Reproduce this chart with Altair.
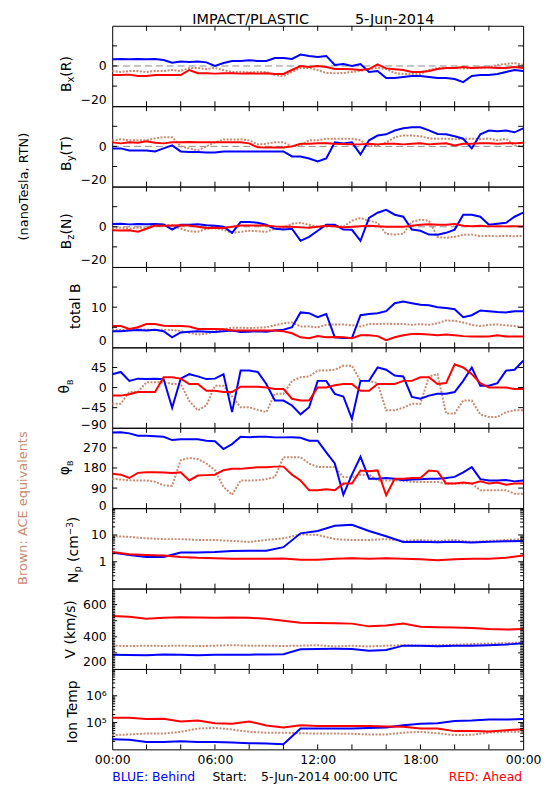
import altair as alt
import pandas as pd

# ---------------- time grids ----------------
HALF_HOURS = [0, 0.5, 1, 1.5, 2, 2.5, 3, 3.5, 4, 4.5,
              5, 5.5, 6, 6.5, 7, 7.5, 8, 8.5, 9, 9.5,
              10, 10.5, 11, 11.5, 12, 12.5, 13, 13.5, 14, 14.5,
              15, 15.5, 16, 16.5, 17, 17.5, 18, 18.5, 19, 19.5,
              20, 20.5, 21, 21.5, 22, 22.5, 23, 23.5, 24]
HOURS = [0, 1, 2, 3, 4, 5, 6, 7, 8, 9, 10, 11, 12, 13, 14, 15, 16, 17, 18, 19, 20, 21, 22, 23, 24]

# ---------------- magnetic field (nT) ----------------
BX_BLUE = [3.3, 3.5, 3.3, 3.5, 3.3, 3.5, 3, 1.6, 2.2, 2,
           2.2, 1.8, 0, 1.5, 2.5, 2.5, 2.8, 2.5, 2.5, 4,
           4, 3.5, 5.7, 5, 4.5, 5, 0.5, 1, 0, 1,
           -3, -2.5, -6, -6, -5.5, -5, -5, -5.5, -6, -6,
           -6.5, -8, -5, -4.5, -4.5, -4, -3, -2, -2.5]
BX_RED = [-4.5, -4.5, -4.3, -5, -5, -4.5, -4.5, -4.5, -4.5, -2,
          -3.6, -3.6, -3.8, -3.6, -3.6, -3.8, -3.6, -3.8, -3.6, -4,
          -4, -2, 0, -0.5, 0, -0.5, -1.5, -1.5, -1.6, -2,
          -1.5, 0.8, -1.2, -1.6, -2, -3, -3, -2.5, -1.5, -1,
          -1, -0.5, -1, -0.8, -0.8, -1, -1, -0.5, -1]
BX_BROWN = [-2.5, -3, -2.5, -2.5, -3, -2.5, -2.5, -2, -2.5, -1,
            -1, -1.5, -1, -2, -3, -3, -3.2, -3, -3, -4.5,
            -5, -3, -1, -1, -2, -3.5, -3.6, -3.5, -3, -2.5,
            -1.5, -1, -1.5, -3.5, -4, -4, -4, -2, -1, -1,
            -1, -1.2, -1, -1, -0.5, 0.5, 1, 1.5, 0.5]

BY_BLUE = [-1, -1, -2, -2, -2, -2.5, -1, 0.5, -2.5, -2.8,
           -2.8, -3, -3, -2.5, -2.5, -2.5, -2.5, -2.5, -2.5, -2.5,
           -2.5, -5, -5, -6, -7.5, -6, 2, 1.5, 2, -4,
           3, 5.4, 6, 7.9, 9, 9.5, 9.5, 8, 6.2, 6,
           5, 3.8, -1, 6, 7.9, 7.5, 7.9, 7, 9]
BY_RED = [2, 1.5, 2, 1.8, 2.5, 1.8, 1.5, 2, 2, 2.2,
          2, 2, 2, 2, 2, 2, 1.5, -0.5, -0.6, -0.6,
          -0.6, 0, 1.3, 1.3, 1.5, 1.5, 1.3, 1.2, 1, 1,
          1.3, 1, 1.3, 1.3, 1, 1.3, 1.5, 1, 1.3, 1.5,
          0.5, 1.3, 1.3, 1.5, 1.5, 1.3, 1.5, 1.5, 1.8]
BY_BROWN = [3, 3.5, 3, 3, 3, 4, 4.6, 4.6, 0, -1,
            -2, 0, 2, 3.4, 3.4, 3.5, 3, 1, 1.3, 2,
            2, 0, 0.5, 3, 3, 3.8, 3.8, 3.8, 3.8, 3,
            0, 0.5, 2, 4.5, 5.4, 5.4, 5, 4, 3.8, 3.8,
            3.5, 3.8, 3.8, 3.5, 4, 3, 3.8, 0.5, 0]

BZ_BLUE = [1.4, 1.5, 1.2, 1.4, 1.3, 1.4, 1.2, -1.4, 1, 1,
           1.2, 0.8, 0.5, 0, -3, 2.4, 2.4, 2, 1, -1,
           -1.4, -1, -7, -5, -2, 1, 1, -1.4, -1.5, -7,
           4.4, 7, 8.4, 6, 5, -1.4, -2, -3.9, -4, -3,
           -1.4, 6, 6, 5, 1, 1.5, 2, 5, 7]
BZ_RED = [-1.7, -1.8, -1.7, -2.5, -1, 0.6, 0.5, 0.6, 0.8, 0.6,
          0, -0.6, -0.5, -0.6, 0, 0.6, 0.6, 0.6, 0.6, 0.2,
          0, 0, -0.3, -0.5, 0, 0.5, 0.3, -0.3, 0, 0.3,
          0.5, 0.3, 0, 0, 0, 0.5, 1, 1.2, 1, 1,
          1.4, 0.5, 0.3, 0.5, 0.2, 0.3, 0.2, 0.3, 0.2]
BZ_BROWN = [-0.6, -0.5, -0.8, -0.5, -0.3, 1, 1, 0.8, -1, -2.2,
            -2.5, -1, -0.6, -1.5, -3, -2.5, -2, -2.2, -2.5, -1,
            -0.5, 1.5, 2, 1, 0, 0, 0.5, 0, 3, 4.4,
            3, 2, -3.5, -3.9, -3.5, 2.5, 3.5, 3, -5, -5.5,
            -5, -4, -3.9, -4.7, -4.5, -4.7, -4.5, -4.7, -4.5]

BT_BLUE = [4, 4, 4.2, 4.3, 4.2, 4.4, 4, 2.5, 3.7, 3.9,
           4, 3.9, 3.8, 4, 4.2, 3.8, 3.9, 4, 3.9, 4.2,
           4.4, 5, 8.7, 8.5, 7.5, 8.3, 2.5, 2.3, 2.3, 8,
           8.3, 8.5, 9, 11, 11.4, 11, 10.6, 10.5, 10, 9.8,
           9.5, 7.5, 8, 9.2, 9, 8.8, 8.7, 9, 9]
BT_RED = [5.3, 5.3, 4.6, 5, 5.8, 5.8, 5.4, 5.3, 5.3, 5.2,
          4.6, 4.6, 4.6, 4.5, 4.2, 4.2, 4.2, 4.2, 4.2, 4.2,
          4, 3.5, 2.5, 2.3, 2.8, 2.5, 2.6, 2.5, 2.3, 3,
          3, 2.8, 1.8, 2.5, 3, 3.3, 3.3, 3.2, 3, 3.2,
          3, 2.8, 2.7, 2.7, 2.7, 3, 2.7, 2.7, 2.7]
BT_BROWN = [4.4, 4.3, 4.4, 4.5, 4.4, 4.3, 4.4, 4.3, 4.1, 3.6,
            3.2, 3.4, 4, 4.5, 4.9, 4.9, 4.8, 4.9, 5, 5.5,
            6, 6.2, 5.2, 5.2, 5, 5.6, 5.7, 5.7, 5.5, 5.2,
            5.8, 5.8, 5.9, 5.8, 5.8, 5.6, 5.8, 5.6, 6, 6.7,
            6.6, 6.2, 5.6, 5.3, 5.6, 5.7, 5.5, 5.3, 5]

# ---------------- field angles (deg) ----------------
TH_BLUE = [30, 35, 15, 20, 19, 20, 19, -45, 20, 30,
           25, 19, 20, 30, -55, 38, 38, 35, 8, -29,
           -29, -40, -60, -44, 15, 15, -14, -20, -70, 15,
           15, 45, 40, 27, 25, -21, -25, -18, -14, -14,
           -10, 15, 45, 4, 4, 10, 38, 40, 60]
TH_RED = [-18, -18, -15, -10, -10, -10, 23, 23, 20, 8,
          8, -7, -7, -10, -10, 2, 2, 2, 0, -3,
          -3, -25, -29, -29, 0, 0, 5, 8, 8, -7,
          -7, 8, 8, 8, 15, 15, 23, 23, 8, 10,
          52, 45, 30, 10, 0, 0, 0, -3, -3]
TH_BROWN = [-36, -36, -10, -10, 12, 12, 12, 8, 8, -30,
            -51, -40, 4, 4, -20, -44, -44, -50, -55, -14,
            -14, 15, 23, 25, 38, 38, 40, 49, 49, 15,
            15, 10, -51, -51, -45, -36, -36, 25, 30, -58,
            -58, -29, -29, -60, -66, -66, -55, -51, -51]

PH_BLUE = [339, 340, 335, 324, 324, 322, 320, 305, 309, 309,
           309, 302, 300, 265, 287, 320, 318, 320, 320, 317,
           317, 318, 315, 302, 302, 250, 200, 60, 150, 230,
           132, 132, 135, 132, 125, 128, 130, 132, 132, 135,
           140, 160, 184, 130, 124, 124, 126, 120, 124]
PH_RED = [154, 150, 135, 158, 161, 161, 160, 158, 161, 124,
          146, 148, 150, 170, 176, 176, 180, 183, 183, 186,
          186, 150, 124, 80, 80, 85, 80, 110, 110, 169,
          165, 169, 58, 132, 132, 135, 135, 169, 165, 110,
          110, 115, 110, 120, 110, 115, 105, 110, 110]
PH_BROWN = [132, 128, 125, 124, 124, 118, 102, 100, 215, 225,
            220, 200, 170, 95, 60, 124, 124, 125, 130, 139,
            228, 228, 228, 200, 184, 184, 184, 139, 139, 150,
            150, 124, 124, 124, 124, 117, 117, 117, 117, 110,
            110, 110, 110, 80, 80, 80, 80, 65, 65]

# ---------------- plasma (hourly) ----------------
NP_BLUE = [2.2, 1.8, 1.5, 1.5, 2.2, 2.2, 2.3, 2.5, 2.6, 2.6, 3.5, 11.5, 14, 22, 24, 14, 9, 5.5, 5.6, 5.3, 5.6, 5.2, 5.6, 5.8, 6]
NP_RED = [2.3, 1.9, 1.8, 1.7, 1.5, 1.4, 1.35, 1.3, 1.3, 1.3, 1.33, 1.2, 1.2, 1.3, 1.35, 1.3, 1.35, 1.3, 1.25, 1.15, 1.25, 1.3, 1.3, 1.4, 1.7]
NP_BROWN = [9, 8.5, 7.5, 7, 7, 6.5, 6.5, 6, 5.5, 6.5, 7.5, 10.5, 10, 7, 6.5, 6.5, 7, 6, 6.5, 6, 6.5, 5.5, 6, 6.5, 7]

V_BLUE = [288, 287, 285, 290, 288, 286, 288, 288, 289, 290, 292, 322, 324, 325, 324, 314, 318, 345, 345, 342, 345, 345, 348, 352, 360]
V_RED = [530, 525, 512, 518, 522, 520, 518, 520, 518, 512, 500, 488, 486, 484, 482, 465, 470, 482, 462, 459, 458, 455, 448, 445, 448]
V_BROWN = [345, 342, 345, 343, 345, 342, 345, 348, 345, 345, 343, 345, 348, 340, 345, 340, 345, 348, 345, 348, 350, 355, 358, 360, 365]

T_BLUE = [24000, 23000, 19000, 19000, 20000, 19000, 19000, 18000, 17000, 16500, 15500, 60000, 60000, 60000, 60000, 63000, 65000, 80000, 90000, 95000, 115000, 120000, 130000, 130000, 135000]
T_RED = [150000, 150000, 135000, 140000, 110000, 120000, 95000, 90000, 110000, 78000, 65000, 80000, 75000, 75000, 75000, 75000, 72000, 70000, 60000, 60000, 48000, 48000, 46000, 52000, 56000]
T_BROWN = [34000, 36000, 39000, 39000, 45000, 60000, 63000, 55000, 45000, 42000, 42000, 40000, 39000, 39000, 38000, 36000, 36000, 42000, 45000, 40000, 34000, 35000, 42000, 45000, 45000]

# ---------------- axes ----------------
X_TICKS = [2, 4, 6, 8, 10, 12, 14, 16, 18, 20, 22]
X_LABELS = [0, 6, 12, 18, 24]

FONT = "DejaVu Sans"
BLUE = "#0000ff"
RED = "#ff0000"
BROWN = "#c98a70"
GRAY = "#8c8c8c"
W, H = 414, 81
ONE = pd.DataFrame({"o": [0]})

CW = {'B': 0.686, 'x': 0.592, '(': 0.390, ')': 0.390, 'R': 0.695, 'y': 0.592, 'T': 0.611,
      'z': 0.525, 'N': 0.748, 't': 0.392, 'o': 0.612, 'a': 0.613, 'l': 0.278, ' ': 0.318,
      'θ': 0.612, 'φ': 0.660, 'p': 0.635, 'c': 0.550, 'm': 0.974, '−': 0.838, '3': 0.636,
      'V': 0.684, 'k': 0.579, '/': 0.337, 's': 0.521, 'I': 0.295, 'n': 0.634, 'e': 0.615}


def tw(text, size):
    return sum(CW.get(c, 0.6) for c in text) * size


def text_layer(txt, x, y, size=13, color="black", angle=0, align="left", baseline="alphabetic"):
    return alt.Chart(ONE).mark_text(
        text=txt, font=FONT, fontSize=size, color=color, angle=angle,
        align=align, baseline=baseline
    ).encode(x=alt.value(x), y=alt.value(y))


def vtitle(pieces, xb, yc):
    total = sum(tw(t, s) for t, s, _ in pieces)
    y = yc + total / 2
    out = []
    for t, s, dx in pieces:
        if t.strip():
            out.append(text_layer(t, xb + dx, y, size=s, angle=270, align="left"))
        y -= tw(t, s)
    return out


def panel(hours, blue, red, brown, ydom, ylog, ylabels, labelexpr, major, minor,
          title_pieces, title_x, title_y, zero=False, bottom_axis=False, extra=None,
          flush_offset=0):
    xscale = alt.Scale(domain=[0, 24], nice=False, zero=False)
    if bottom_axis:
        xaxis = alt.Axis(values=X_LABELS,
                         labelExpr="(datum.value % 24 < 10 ? '0' : '') + (datum.value % 24) + ':00'",
                         ticks=False, tickSize=0, domain=False, grid=False, labelPadding=4,
                         labelFont=FONT, labelFontSize=12.5, labelColor="black", title=None,
                         labelFlush=False, labelOverlap=False)
    else:
        xaxis = None
    yscale = alt.Scale(type="log" if ylog else "linear", domain=ydom, nice=False, zero=False)
    ykw = dict(values=ylabels, ticks=False, tickSize=0, domain=False, grid=False,
               labelPadding=6, labelFont=FONT, labelFontSize=12.5, labelColor="black",
               title=None, labelFlush=True, labelOverlap=False)
    if flush_offset:
        ykw["labelFlushOffset"] = flush_offset
    if labelexpr:
        ykw["labelExpr"] = labelexpr
    yaxis = alt.Axis(**ykw)
    X = alt.X("h:Q", scale=xscale, axis=xaxis)
    Y = alt.Y("v:Q", scale=yscale, axis=yaxis)

    layers = []
    if zero:
        layers.append(alt.Chart(pd.DataFrame({"v": [0]})).mark_rule(
            color=GRAY, strokeDash=[7, 4], strokeWidth=1).encode(y=Y))
    for vals, col, dash in ((brown, BROWN, [2, 1.5]), (blue, BLUE, None), (red, RED, None)):
        df = pd.DataFrame({"h": hours, "v": vals})
        kw = dict(color=col, strokeWidth=2, clip=True)
        if dash:
            kw["strokeDash"] = dash
        layers.append(alt.Chart(df).mark_line(**kw).encode(x=X, y=Y))

    # inward tick marks
    for vals, ln in ((major, 5), (minor, 3)):
        if not vals:
            continue
        tdf = pd.DataFrame({"v": vals})
        layers.append(alt.Chart(tdf).mark_rule(color="black", strokeWidth=1).encode(
            y=Y, x=alt.value(0), x2=alt.value(ln)))
        layers.append(alt.Chart(tdf).mark_rule(color="black", strokeWidth=1).encode(
            y=Y, x=alt.value(W - ln), x2=alt.value(W)))
    xdf = pd.DataFrame({"h": X_TICKS})
    layers.append(alt.Chart(xdf).mark_rule(color="black", strokeWidth=1).encode(
        x=X, y=alt.value(0), y2=alt.value(5)))
    layers.append(alt.Chart(xdf).mark_rule(color="black", strokeWidth=1).encode(
        x=X, y=alt.value(H - 5), y2=alt.value(H)))

    layers += vtitle(title_pieces, title_x, title_y)
    if extra:
        layers += extra
    return alt.layer(*layers).properties(width=W, height=H)


# minor tick lists
NP_MINOR = [0.2, 0.3, 0.4, 0.5, 0.6, 0.7, 0.8, 0.9, 2, 3, 4, 5, 6, 7, 8, 9,
            20, 30, 40, 50, 60, 70, 80, 90]
T_MINOR = [20000, 30000, 40000, 50000, 60000, 70000, 80000, 90000,
           200000, 300000, 400000, 500000, 600000, 700000, 800000, 900000,
           2000000, 3000000, 4000000, 5000000, 6000000, 7000000, 8000000, 9000000]
V_MINOR = [210, 220, 230, 240, 250, 260, 270, 280, 290,
           310, 320, 330, 340, 350, 360, 370, 380, 390,
           410, 420, 430, 440, 450, 460, 470, 480, 490,
           510, 520, 530, 540, 550, 560, 570, 580, 590,
           610, 620, 630, 640, 650, 660, 670, 680, 690]

top_extra = [
    # white spacer that fixes the left edge of the figure
    alt.Chart(ONE).mark_rule(color="white", strokeWidth=1).encode(
        x=alt.value(-103.5), x2=alt.value(-103), y=alt.value(40)),
    text_layer("IMPACT/PLASTIC", 139.5, -2, size=14.5, align="center"),
    text_layer("5-Jun-2014", 284.5, -2, size=14.5, align="center"),
]
p1 = panel(HALF_HOURS, BX_BLUE, BX_RED, BX_BROWN, [-20, 20], False, [-20, 0], None,
           [-10, 0, 10], None, [("B", 14, 0), ("x", 10, 3), ("(R)", 14, 0)], -42, 48.7,
           zero=True, extra=top_extra)
p2 = panel(HALF_HOURS, BY_BLUE, BY_RED, BY_BROWN, [-20, 20], False, [-20, 0], None,
           [-10, 0, 10], None, [("B", 14, 0), ("y", 10, 3), ("(T)", 14, 0)], -42, 47.7,
           zero=True,
           extra=[text_layer("(nanoTesla, RTN)", -85, 81, size=13, angle=270, align="center")])
p3 = panel(HALF_HOURS, BZ_BLUE, BZ_RED, BZ_BROWN, [-20, 20], False, [-20, 0], None,
           [-10, 0, 10], None, [("B", 14, 0), ("z", 10, 3), ("(N)", 14, 0)], -42, 45,
           zero=True)
p4 = panel(HALF_HOURS, BT_BLUE, BT_RED, BT_BROWN, [0, 20], False, [0, 10], None,
           [5, 10, 15], None, [("total B", 14, 0)], -32, 39.5)
p5 = panel(HALF_HOURS, TH_BLUE, TH_RED, TH_BROWN, [-90, 90], False, [-90, -45, 0, 45], None,
           [-45, 0, 45], None, [("θ", 14, 0), ("B", 8, 4)], -44, 39.5, flush_offset=4)
p6 = panel(HALF_HOURS, PH_BLUE, PH_RED, PH_BROWN, [0, 360], False, [0, 90, 180, 270], None,
           [90, 180, 270], None, [("φ", 14, 0), ("B", 8, 4)], -44, 40.5, flush_offset=4,
           extra=[text_layer("Brown: ACE equivalents", -86, 81, size=13, angle=270,
                             align="center", color=BROWN)])
p7 = panel(HOURS, NP_BLUE, NP_RED, NP_BROWN, [0.1, 100], True, [1, 10],
           "datum.value >= 5 ? '10' : '1'", [1, 10], NP_MINOR,
           [("N", 14, 0), ("p", 10, 3), (" ", 14, 0), ("(cm", 14, 0), ("−3", 9, -6), (")", 14, 0)],
           -34, 42)
p8 = panel(HOURS, V_BLUE, V_RED, V_BROWN, [200, 700], False, [200, 400, 600], None,
           [300, 400, 500, 600], V_MINOR, [("V (km/s)", 14, 0)], -37, 41)
bottom_extra = [
    text_layer("BLUE: Behind", 0, 113, size=12.5, color=BLUE),
    text_layer("Start:", 101, 113, size=12.5),
    text_layer("5-Jun-2014 00:00 UTC", 150, 113, size=12.5),
    text_layer("RED: Ahead", 413, 113, size=12.5, color=RED, align="right"),
]
p9 = panel(HOURS, T_BLUE, T_RED, T_BROWN, [10000, 10000000], True, [100000, 1000000],
           "datum.value >= 500000 ? '10⁶' : '10⁵'", [100000, 1000000], T_MINOR,
           [("Ion Temp", 14, 0)], -35, 42, bottom_axis=True, extra=bottom_extra)

chart = alt.vconcat(p1, p2, p3, p4, p5, p6, p7, p8, p9, spacing=0, bounds="flush").properties(
    padding={"left": 0, "top": 0, "right": 0, "bottom": 0},
    background="white",
).configure_view(stroke="black", strokeWidth=1)

chart.save("out.html", embed_options={"renderer": "svg", "actions": False})
